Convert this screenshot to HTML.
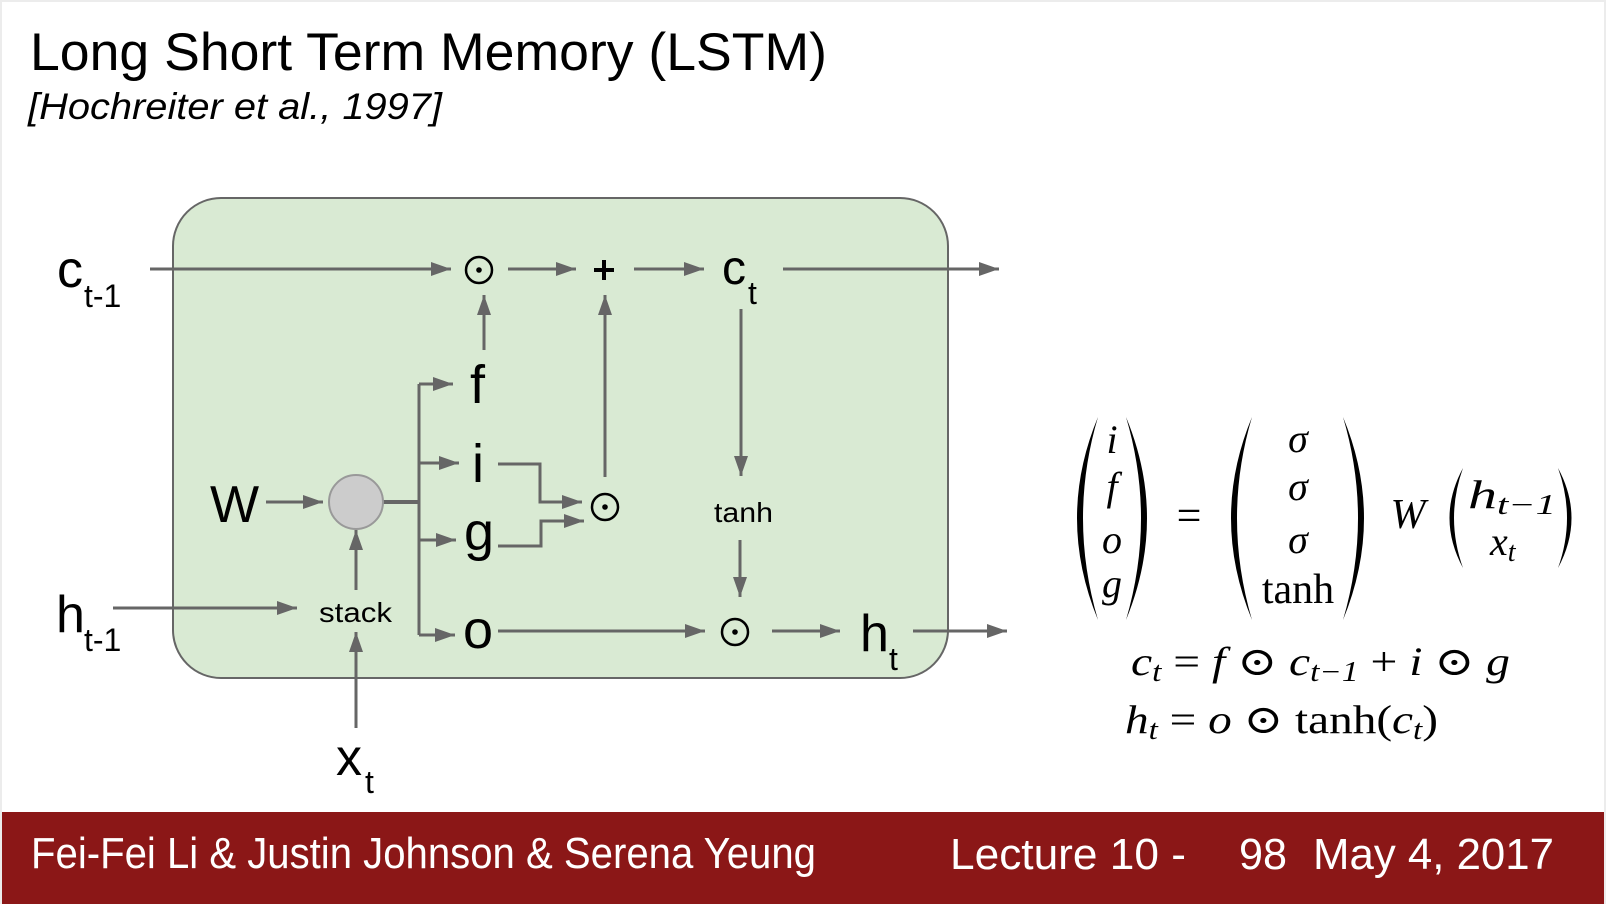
<!DOCTYPE html>
<html><head><meta charset="utf-8"><style>
html,body{margin:0;padding:0;background:#fff;}
svg{display:block;}
</style></head><body>
<svg width="1606" height="904" viewBox="0 0 1606 904" xmlns="http://www.w3.org/2000/svg">
<defs>
<marker id="ah" markerWidth="20" markerHeight="14" refX="20" refY="7" orient="auto" markerUnits="userSpaceOnUse">
<path d="M0,0 L20,7 L0,14 z" fill="#666"/>
</marker>
</defs>
<rect x="0" y="0" width="1606" height="904" fill="#ececec"/>
<rect x="2" y="2" width="1602" height="902" fill="#fff"/>
<g font-family="Liberation Sans, sans-serif" fill="#000">
<text x="30" y="70" font-size="53" textLength="797" lengthAdjust="spacingAndGlyphs">Long Short Term Memory (LSTM)</text>
<text x="28" y="119" font-size="37" font-style="italic" textLength="414" lengthAdjust="spacingAndGlyphs">[Hochreiter et al., 1997]</text>
</g>
<rect x="173" y="198" width="775" height="480" rx="48" ry="48" fill="#d9ead3" stroke="#666" stroke-width="2"/>
<g stroke="#666" stroke-width="3" fill="none">
<line x1="150" y1="269" x2="451" y2="269" marker-end="url(#ah)"/>
<line x1="508" y1="269" x2="576" y2="269" marker-end="url(#ah)"/>
<line x1="634" y1="269" x2="704" y2="269" marker-end="url(#ah)"/>
<line x1="783" y1="269" x2="999" y2="269" marker-end="url(#ah)"/>
<line x1="484" y1="350" x2="484" y2="295" marker-end="url(#ah)"/>
<line x1="605" y1="477" x2="605" y2="295" marker-end="url(#ah)"/>
<line x1="741" y1="309" x2="741" y2="476" marker-end="url(#ah)"/>
<line x1="740" y1="540" x2="740" y2="597" marker-end="url(#ah)"/>
<line x1="266" y1="502" x2="323" y2="502" marker-end="url(#ah)"/>
<line x1="383" y1="502" x2="419" y2="502" stroke-width="4"/>
<line x1="419" y1="384" x2="419" y2="635"/>
<line x1="419" y1="384" x2="453" y2="384" marker-end="url(#ah)"/>
<line x1="419" y1="463" x2="459" y2="463" marker-end="url(#ah)"/>
<line x1="419" y1="540" x2="456" y2="540" marker-end="url(#ah)"/>
<line x1="419" y1="635" x2="455" y2="635" marker-end="url(#ah)"/>
<polyline points="498,464 540,464 540,502 582,502" marker-end="url(#ah)"/>
<polyline points="498,546 541,546 541,521 584,521" marker-end="url(#ah)"/>
<line x1="498" y1="631" x2="705" y2="631" marker-end="url(#ah)"/>
<line x1="772" y1="631" x2="840" y2="631" marker-end="url(#ah)"/>
<line x1="913" y1="631" x2="1007" y2="631" marker-end="url(#ah)"/>
<line x1="113" y1="608" x2="297" y2="608" marker-end="url(#ah)"/>
<line x1="356" y1="590" x2="356" y2="530" marker-end="url(#ah)"/>
<line x1="356" y1="728" x2="356" y2="632" marker-end="url(#ah)"/>
</g>
<circle cx="356" cy="502" r="27" fill="#cccccc" stroke="#999" stroke-width="2"/>
<g stroke="#000" stroke-width="2.5" fill="none">
<circle cx="479" cy="270" r="13"/>
<circle cx="605" cy="507" r="13"/>
<circle cx="735" cy="632" r="13"/>
</g>
<g fill="#000">
<circle cx="479" cy="270" r="2.8"/>
<circle cx="605" cy="507" r="2.8"/>
<circle cx="735" cy="632" r="2.8"/>
</g>
<g stroke="#000" stroke-width="4">
<line x1="594" y1="270" x2="614" y2="270"/>
<line x1="604" y1="260" x2="604" y2="280"/>
</g>
<g font-family="Liberation Sans, sans-serif" fill="#000">
<text x="57" y="287" font-size="52">c</text>
<text x="84" y="307" font-size="32">t-1</text>
<text x="722" y="284" font-size="48">c</text>
<text x="748" y="304" font-size="32">t</text>
<text x="470" y="403" font-size="54">f</text>
<text x="472" y="482" font-size="54">i</text>
<text x="464" y="550" font-size="54">g</text>
<text x="463" y="648" font-size="54">o</text>
<text x="210" y="522" font-size="52">W</text>
<text x="319" y="622" font-size="28" textLength="73" lengthAdjust="spacingAndGlyphs">stack</text>
<text x="714" y="522" font-size="28" textLength="59" lengthAdjust="spacingAndGlyphs">tanh</text>
<text x="56" y="632" font-size="52">h</text>
<text x="84" y="651" font-size="32">t-1</text>
<text x="860" y="651" font-size="52">h</text>
<text x="889" y="670" font-size="32">t</text>
<text x="336" y="775" font-size="52">x</text>
<text x="365" y="793" font-size="32">t</text>
</g>
<g fill="#000" stroke="none">
<path d="M1098,417 Q1056,518 1098,620 Q1068,518 1098,417 z"/>
<path d="M1126,417 Q1168,518 1126,620 Q1156,518 1126,417 z"/>
<path d="M1252,417 Q1210,518 1252,620 Q1222,518 1252,417 z"/>
<path d="M1343,417 Q1385,518 1343,620 Q1373,518 1343,417 z"/>
<path d="M1463,468 Q1436,518 1463,568 Q1445,518 1463,468 z"/>
<path d="M1558,468 Q1585,518 1558,568 Q1576,518 1558,468 z"/>
</g>
<g font-family="Liberation Serif, DejaVu Serif, serif" fill="#000" font-size="40" text-anchor="middle">
<text x="1112" y="453" font-style="italic">i</text>
<text x="1112" y="500" font-style="italic">f</text>
<text x="1112" y="553" font-style="italic">o</text>
<text x="1112" y="597" font-style="italic">g</text>
<text x="1189" y="530" font-size="44">=</text>
<text x="1298" y="452" font-style="italic">σ</text>
<text x="1298" y="500" font-style="italic">σ</text>
<text x="1298" y="553" font-style="italic">σ</text>
<text x="1298" y="603" font-size="42">tanh</text>
<text x="1408" y="528" font-style="italic" font-size="42">W</text>
</g>
<g font-family="Liberation Serif, DejaVu Serif, serif" fill="#000">
<text x="1468" y="508" font-size="40" font-style="italic" textLength="88" lengthAdjust="spacingAndGlyphs">h<tspan font-size="28" dy="6">t−1</tspan></text>
<text x="1490" y="555" font-size="40" font-style="italic">x<tspan font-size="28" dy="6">t</tspan></text>
<text x="1131" y="675" font-size="40" textLength="379" lengthAdjust="spacingAndGlyphs"><tspan font-style="italic">c</tspan><tspan font-size="28" font-style="italic" dy="6">t</tspan><tspan dy="-6"> = </tspan><tspan font-style="italic">f</tspan> ⊙ <tspan font-style="italic">c</tspan><tspan font-size="28" font-style="italic" dy="6">t−1</tspan><tspan dy="-6"> + </tspan><tspan font-style="italic">i</tspan> ⊙ <tspan font-style="italic">g</tspan></text>
<text x="1125" y="733" font-size="40" textLength="313" lengthAdjust="spacingAndGlyphs"><tspan font-style="italic">h</tspan><tspan font-size="28" font-style="italic" dy="6">t</tspan><tspan dy="-6"> = </tspan><tspan font-style="italic">o</tspan> ⊙ tanh(<tspan font-style="italic">c</tspan><tspan font-size="28" font-style="italic" dy="6">t</tspan><tspan dy="-6">)</tspan></text>
</g>
<rect x="2" y="812" width="1602" height="92" fill="#8b1717"/>
<g font-family="Liberation Sans, sans-serif" fill="#fff" font-size="44">
<text x="31" y="868" textLength="785" lengthAdjust="spacingAndGlyphs">Fei-Fei Li &amp; Justin Johnson &amp; Serena Yeung</text>
<text x="950" y="869" textLength="236" lengthAdjust="spacingAndGlyphs">Lecture 10 -</text>
<text x="1239" y="869" textLength="48" lengthAdjust="spacingAndGlyphs">98</text>
<text x="1313" y="869" textLength="241" lengthAdjust="spacingAndGlyphs">May 4, 2017</text>
</g>
</svg>
</body></html>
